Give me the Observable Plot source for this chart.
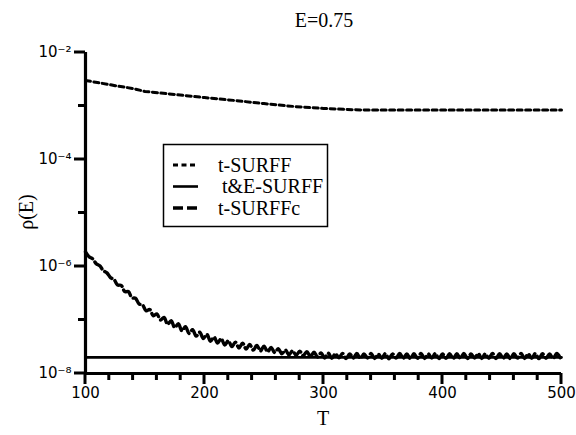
<!DOCTYPE html>
<html><head><meta charset="utf-8">
<script src="https://cdn.jsdelivr.net/npm/d3@7"></script>
<script src="https://cdn.jsdelivr.net/npm/@observablehq/plot@0.6"></script>
<style>
html,body{margin:0;padding:0;background:#fff;overflow:hidden}
#wrap{position:relative;width:576px;height:435px;overflow:hidden}
</style></head><body><div id="wrap"></div>
<script>
const seriesNames = ["t-SURFF", "t&E-SURFF", "t-SURFFc"];

const tSurffT = [100, 110, 125, 140, 150, 175, 200, 225, 250, 275, 300, 320, 335, 400, 500];
const tSurffV = [3.0e-3, 2.75e-3, 2.4e-3, 2.12e-3, 1.87e-3, 1.64e-3, 1.44e-3, 1.27e-3, 1.11e-3, 9.8e-4, 9.0e-4, 8.6e-4, 8.4e-4, 8.4e-4, 8.4e-4];

const teSurffT = [100, 500];
const teSurffV = [2.0e-8, 2.0e-8];

const tSurffcT = [100,103,106,109,112,115,118,121,124,127,130,133,136,139,142,145,148,151,154,157,160,163,166,169,172,175,178,181,184,187,190,193,196,199,202,205,208,211,214,217,220,223,226,229,232,235,238,241,244,247,250,253,256,259,262,265,268,271,274,277,280,283,286,289,292,295,298,301,304,307,310,313,316,319,322,325,328,331,334,337,340,343,346,349,352,355,358,361,364,367,370,373,376,379,382,385,388,391,394,397,400,403,406,409,412,415,418,421,424,427,430,433,436,439,442,445,448,451,454,457,460,463,466,469,472,475,478,481,484,487,490,493,496,499];
const tSurffcV = [1.87e-6,1.52e-6,1.39e-6,1.13e-6,1.03e-6,8.35e-7,7.6e-7,6.2e-7,5.7e-7,4.5e-7,4.45e-7,3.4e-7,3.4e-7,2.6e-7,2.55e-7,2.0e-7,1.9e-7,1.48e-7,1.57e-7,1.2e-7,1.3e-7,1.0e-7,
1.12e-7,8.3e-8,9.7e-8,7.2e-8,8.5e-8,6.3e-8,7.5e-8,5.6e-8,6.6e-8,5.0e-8,5.9e-8,4.5e-8,5.4e-8,4.0e-8,4.8e-8,3.7e-8,4.5e-8,3.4e-8,4.1e-8,3.2e-8,3.85e-8,3.0e-8,3.7e-8,2.86e-8,3.5e-8,2.74e-8,3.36e-8,2.63e-8,3.25e-8,2.54e-8,
3.07e-8,2.47e-8,2.9e-8,2.34e-8,2.75e-8,2.23e-8,2.67e-8,2.18e-8,2.62e-8,2.15e-8,2.56e-8,2.09e-8,2.5e-8,2.04e-8,2.43e-8,
1.95e-8,2.4e-8,1.92e-8,2.35e-8,1.96e-8,2.38e-8,1.9e-8,2.33e-8,1.94e-8,2.36e-8,1.91e-8,2.32e-8,1.95e-8,2.37e-8,1.9e-8,2.31e-8,1.93e-8,2.36e-8,1.89e-8,2.33e-8,1.94e-8,2.38e-8,1.92e-8,2.32e-8,1.9e-8,2.35e-8,1.93e-8,2.37e-8,1.91e-8,2.33e-8,1.94e-8,2.36e-8,1.9e-8,2.31e-8,1.92e-8,2.35e-8,1.89e-8,2.34e-8,1.93e-8,2.37e-8,1.91e-8,2.32e-8,1.94e-8,2.36e-8,1.9e-8,2.33e-8,1.92e-8,2.38e-8,1.91e-8,2.34e-8,1.93e-8,2.31e-8,1.9e-8,2.35e-8,1.94e-8,2.36e-8,1.91e-8,2.33e-8,1.92e-8,2.37e-8,1.9e-8,2.34e-8,1.93e-8,2.32e-8,1.91e-8,2.36e-8,1.94e-8];

const xMajorTicks = [100, 200, 300, 400, 500];
const xMinorTicks = [120,140,160,180,220,240,260,280,320,340,360,380,420,440,460,480];
const yMajorTicks = [1e-8, 1e-6, 1e-4, 1e-2];
const yMinorTicks = [1e-7, 1e-5, 1e-3];
const yTickLabels = ["10\u207B\u2078", "10\u207B\u2076", "10\u207B\u2074", "10\u207B\u00B2"];

const titleText = "E=0.75";
const xLabelText = "T";
const yLabelText = "\u03C1(E)";

const styles = {
  "t-SURFF": {dash: "5,3.5", width: 3},
  "t&E-SURFF": {dash: null, width: 2.6},
  "t-SURFFc": {dash: "10,4", width: 3.4}
};

const tSurff = tSurffT.map((t, i) => ({T: t, v: tSurffV[i]}));
const teSurff = teSurffT.map((t, i) => ({T: t, v: teSurffV[i]}));
const tSurffc = tSurffcT.map((t, i) => ({T: t, v: tSurffcV[i]}));

const xMin = 100, yMin = 1e-8;
const serif = "Liberation Serif, Times New Roman, Times, serif";

const chart = Plot.plot({
  width: 576,
  height: 435,
  marginLeft: 85,
  marginRight: 15,
  marginTop: 52,
  marginBottom: 62,
  style: {fontFamily: "DejaVu Sans", fontSize: "15px"},
  x: {domain: [100, 500], label: null},
  y: {type: "log", domain: [1e-8, 1e-2], label: null},
  marks: [
    Plot.line(tSurff, {x: "T", y: "v", stroke: "black", strokeWidth: styles["t-SURFF"].width, strokeDasharray: styles["t-SURFF"].dash}),
    Plot.line(teSurff, {x: "T", y: "v", stroke: "black", strokeWidth: styles["t&E-SURFF"].width}),
    Plot.line(tSurffc, {x: "T", y: "v", stroke: "black", strokeWidth: styles["t-SURFFc"].width, strokeDasharray: styles["t-SURFFc"].dash, curve: "catmull-rom"}),
    Plot.axisX(xMajorTicks, {tickSize: 0, tickPadding: 14, fontSize: 15, tickFormat: d => String(d), label: null}),
    Plot.axisY(yMajorTicks, {tickSize: 0, tickPadding: 14, fontSize: 15, tickFormat: d => yTickLabels[yMajorTicks.indexOf(d)], label: null}),
    Plot.ruleX([xMin], {y1: 1e-8, y2: 1e-2, stroke: "black", strokeWidth: 3.2}),
    Plot.ruleY([yMin], {x1: 100, x2: 500, stroke: "black", strokeWidth: 3.2})
  ]
});

const svg = d3.select(chart);
const sx = chart.scale("x");
const sy = chart.scale("y");
const X = v => sx.apply(v);
const Y = v => sy.apply(v);

// tick marks drawn from the plot's own scales
const tg = svg.append("g").attr("stroke", "black").attr("stroke-width", 3);
const x0 = X(xMin), y0 = Y(yMin);
xMinorTicks.forEach(t => tg.append("line").attr("x1", X(t)).attr("x2", X(t)).attr("y1", y0).attr("y2", y0 + 7));
xMajorTicks.forEach(t => tg.append("line").attr("x1", X(t)).attr("x2", X(t)).attr("y1", y0).attr("y2", y0 + 11));
yMinorTicks.forEach(t => tg.append("line").attr("y1", Y(t)).attr("y2", Y(t)).attr("x1", x0).attr("x2", x0 - 7));
yMajorTicks.forEach(t => tg.append("line").attr("y1", Y(t)).attr("y2", Y(t)).attr("x1", x0).attr("x2", x0 - 11));

svg.append("text").attr("x", 324).attr("y", 27).attr("text-anchor", "middle")
  .attr("font-family", serif).attr("font-size", 20).attr("fill", "black").text(titleText);
svg.append("text").attr("x", 323).attr("y", 425).attr("text-anchor", "middle")
  .attr("font-family", serif).attr("font-size", 20).attr("fill", "black").text(xLabelText);
svg.append("text").attr("transform", "translate(26,212) rotate(-90)").attr("dy", "0.35em").attr("text-anchor", "middle")
  .attr("font-family", serif).attr("font-size", 20).attr("fill", "black").text(yLabelText);

const lg = svg.append("g");
lg.append("rect").attr("x", 163.5).attr("y", 144.5).attr("width", 164).attr("height", 82)
  .attr("fill", "white").attr("stroke", "black").attr("stroke-width", 1.5);
seriesNames.forEach((name, i) => {
  const cy = 165 + i * 21.5;
  const s = styles[name];
  const ln = lg.append("line").attr("x1", 173).attr("x2", 198).attr("y1", cy).attr("y2", cy)
    .attr("stroke", "black").attr("stroke-width", s.width);
  if (s.dash) ln.attr("stroke-dasharray", s.dash);
  lg.append("text").attr("x", i === 1 ? 222 : 218).attr("y", cy + 6.5)
    .attr("font-family", serif).attr("font-size", 20).attr("fill", "black").attr("text-anchor", "start").text(name);
});

document.getElementById("wrap").appendChild(chart);
</script>
</body></html>
